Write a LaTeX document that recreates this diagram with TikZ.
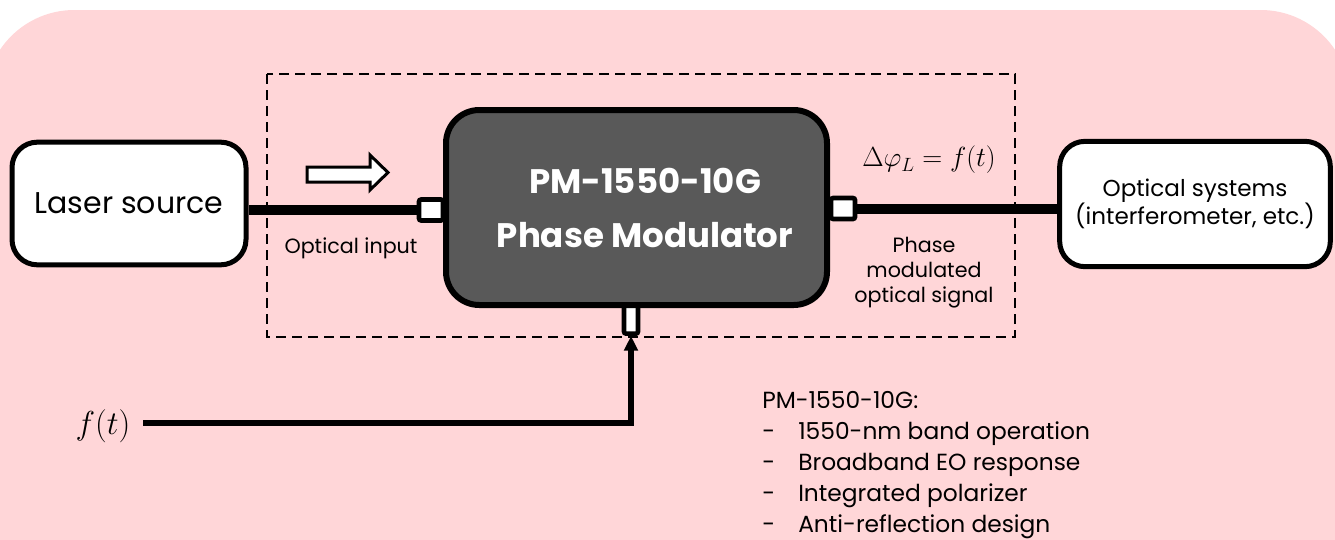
\documentclass[tikz,border=0pt]{standalone}
\usepackage[no-math]{fontspec}
\setmainfont{Poppins}
\usepackage{amsmath}
\usepackage{tikz}
\usetikzlibrary{arrows.meta,positioning}

\definecolor{bgpink}{RGB}{255,214,216}
\definecolor{pmgray}{RGB}{89,89,89}

\tikzset{
  block/.style={draw, line width=3.75pt, rounded corners=19pt, fill=white, align=center, inner sep=0pt},
  pmblock/.style={draw, line width=4.5pt, rounded corners=25pt, fill=pmgray, inner sep=0pt},
  port/.style={draw, line width=3.4pt, fill=white, rounded corners=1.5pt, inner sep=0pt},
  fiber/.style={line width=7.5pt},
  rfline/.style={line width=4.5pt, -{Triangle[width=10pt,length=11pt]}},
  dashbox/.style={line width=1.9pt, dash pattern=on 7.5pt off 4.5pt},
  smalltext/.style={font=\fontsize{15.5}{18.75}\selectfont, align=center, inner sep=0pt}
}

\begin{document}
\begin{tikzpicture}[x=0.75pt,y=-0.75pt]
  \useasboundingbox (0,0) rectangle (1335,539);
  % Background panel
  \fill[bgpink, rounded corners=67pt] (-15,10) rectangle (1350,640);

  % Dashed frame round the modulator
  \draw[dashbox] (267,74) rectangle (1015,337);

  % Blocks
  \node[block, minimum width=175.5pt, minimum height=92pt, font=\fontsize{22.5}{26}\selectfont] (laser) at (129,203.5) {Laser source};
  \node[block, minimum width=203pt, minimum height=94pt, font=\fontsize{17.3}{21}\selectfont] (optsys) at (1195,204) {Optical systems\\(interferometer, etc.)};

  % Ports
  \node[port, minimum width=18pt, minimum height=15.75pt] (pin_in) at (431,210) {};
  \node[port, minimum width=18pt, minimum height=15.75pt] (pin_out) at (843,208.5) {};
  \node[port, minimum width=10.5pt, minimum height=22pt] (pin_rf) at (631,319) {};

  % Modulator
  \node[pmblock, minimum width=285.75pt, minimum height=146.25pt] (pm) at (636.5,207.5) {};
  \node[text=white, align=center, font=\fontsize{25.5}{40}\selectfont\bfseries] (pmlabel) at (645,208) {PM-1550-10G\\Phase Modulator};

  % Fibres
  \draw[fiber] (pin_in.west) -- (pin_in.west -| laser.east);
  \draw[fiber] (pin_out.east) -- (pin_out.east -| optsys.west);

  % Light direction
  \draw[line width=2.25pt, fill=white] (307,167) -- (370,167) -- (370,155) -- (388,172.5) -- (370,190) -- (370,182) -- (307,182) -- cycle;

  % Labels
  \node[smalltext] (inlabel) at (351,248) {Optical input};
  \node[smalltext] (outlabel) at (924,273) {Phase\\modulated\\optical signal};
  \node[font=\fontsize{22}{26}\selectfont, inner sep=0pt] (dphi) at (929,160) {$\Delta\varphi_L = f(t)$};

  % Drive signal
  \node[font=\fontsize{24}{28}\selectfont, inner sep=0pt] (ftxt) at (103,426) {$f(t)$};
  \coordinate (fstart) at (143,423);
  \draw[rfline] (fstart) -| (pin_rf.south);

  % Specs
  \node[anchor=north west, align=left, inner sep=0pt, font=\fontsize{17.5}{23.25}\selectfont] (specs) at (762,391) {PM-1550-10G:\\
    \makebox[27pt][l]{-}1550-nm band operation\\
    \makebox[27pt][l]{-}Broadband EO response\\
    \makebox[27pt][l]{-}Integrated polarizer\\
    \makebox[27pt][l]{-}Anti-reflection design};
\end{tikzpicture}
\end{document}
